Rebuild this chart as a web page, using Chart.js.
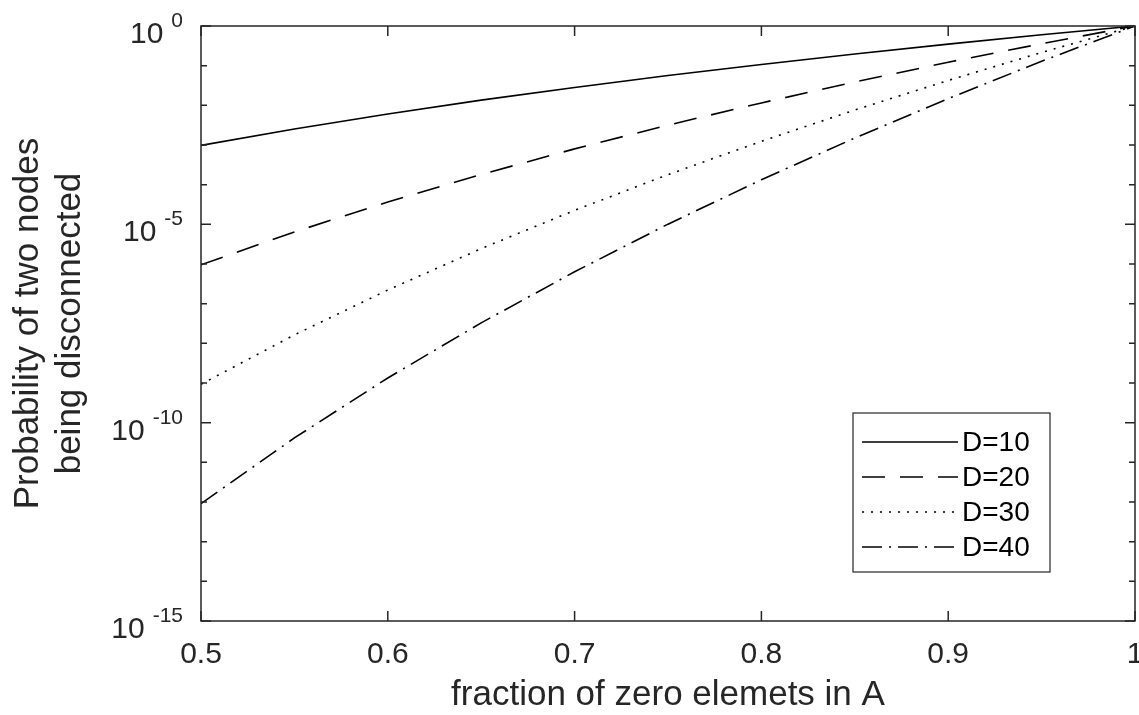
<!DOCTYPE html>
<html>
<head>
<meta charset="utf-8">
<script src="https://cdn.jsdelivr.net/npm/chart.js@4"></script>
<style>
  body { margin: 0; background: #fff; }
  canvas { display: block; }
</style>
</head>
<body>
<canvas id="myChart" width="1139" height="715"></canvas>
<script>
// values (x = fraction of zero elements)
const xValues = [0.5, 0.55, 0.6, 0.65, 0.7, 0.75, 0.8, 0.85, 0.9, 0.95, 1.0];
const d10 = [9.77e-4, 2.53e-3, 6.05e-3, 1.35e-2, 2.82e-2, 5.63e-2, 1.07e-1, 1.97e-1, 3.49e-1, 5.99e-1, 1];
const d20 = [9.54e-7, 6.42e-6, 3.66e-5, 1.81e-4, 7.98e-4, 3.17e-3, 1.15e-2, 3.88e-2, 1.22e-1, 3.58e-1, 1];
const d30 = [9.31e-10, 1.63e-8, 2.21e-7, 2.44e-6, 2.25e-5, 1.79e-4, 1.24e-3, 7.63e-3, 4.24e-2, 2.15e-1, 1];
const d40 = [9.09e-13, 4.12e-11, 1.34e-9, 3.28e-8, 6.37e-7, 1.01e-5, 1.33e-4, 1.50e-3, 1.48e-2, 1.29e-1, 1];
const seriesLabels = ['D=10', 'D=20', 'D=30', 'D=40'];
const xTicks = [0.5, 0.6, 0.7, 0.8, 0.9, 1];
const xTickLabels = ['0.5', '0.6', '0.7', '0.8', '0.9', '1'];
const yExponents = [0, -1, -2, -3, -4, -5, -6, -7, -8, -9, -10, -11, -12, -13, -14, -15];
const yLabelExponents = [0, -5, -10, -15];

const AXIS = '#262626';
const FONT = '"Liberation Sans", Arial, Helvetica, sans-serif';
const dashes = [[], [23, 15], [2, 7], [20, 7, 2, 7]];

function pts(arr) {
    return xValues.map((x, i) => ({ x: x, y: arr[i] }));
}

const frame = {
    id: 'matlabFrame',
    afterDraw: (chart) => {
        const { ctx, chartArea: a } = chart;
        const xs = chart.scales.x;
        const ys = chart.scales.y;
        ctx.save();
        ctx.strokeStyle = AXIS;
        ctx.lineWidth = 1.5;
        ctx.setLineDash([]);
        ctx.strokeRect(a.left, a.top, a.right - a.left, a.bottom - a.top);

        // x ticks, inward on bottom and top
        ctx.beginPath();
        xTicks.forEach(v => {
            const px = xs.getPixelForValue(v);
            ctx.moveTo(px, a.bottom); ctx.lineTo(px, a.bottom - 10);
            ctx.moveTo(px, a.top); ctx.lineTo(px, a.top + 10);
        });
        // y ticks, each decade, longer where labelled
        yExponents.forEach(e => {
            const py = ys.getPixelForValue(Math.pow(10, e));
            const len = yLabelExponents.includes(e) ? 10 : 6;
            ctx.moveTo(a.left, py); ctx.lineTo(a.left + len, py);
            ctx.moveTo(a.right, py); ctx.lineTo(a.right - len, py);
        });
        ctx.stroke();

        // x tick labels
        ctx.fillStyle = AXIS;
        ctx.font = '30px ' + FONT;
        ctx.textAlign = 'center';
        ctx.textBaseline = 'middle';
        xTicks.forEach((v, i) => {
            ctx.fillText(xTickLabels[i], xs.getPixelForValue(v), a.bottom + 34);
        });

        // y tick labels 10^n
        ctx.textAlign = 'right';
        ctx.textBaseline = 'alphabetic';
        yLabelExponents.forEach(e => {
            const py = ys.getPixelForValue(Math.pow(10, e));
            const right = a.left - 18;
            ctx.font = '21px ' + FONT;
            const expText = String(e);
            const ew = ctx.measureText(expText).width;
            ctx.fillText(expText, right, py + 1);
            ctx.font = '30px ' + FONT;
            ctx.fillText('10', right - ew - 8, py + 17);
        });

        // axis titles
        ctx.font = '35px ' + FONT;
        ctx.textAlign = 'center';
        ctx.textBaseline = 'middle';
        ctx.fillText('fraction of zero elemets in A', (a.left + a.right) / 2, a.bottom + 74);
        ctx.save();
        ctx.translate(28, (a.top + a.bottom) / 2);
        ctx.rotate(-Math.PI / 2);
        ctx.fillText('Probability of two nodes', 0, 0);
        ctx.fillText('being disconnected', 0, 42);
        ctx.restore();

        // legend box
        const bx = 853, by = 413, bw = 197, bh = 159;
        ctx.fillStyle = '#fff';
        ctx.fillRect(bx, by, bw, bh);
        ctx.lineWidth = 1.2;
        ctx.strokeRect(bx, by, bw, bh);
        ctx.font = '28px ' + FONT;
        ctx.textAlign = 'left';
        chart.data.datasets.forEach((ds, i) => {
            const ry = by + 29 + i * 35;
            ctx.strokeStyle = ds.borderColor;
            ctx.lineWidth = ds.borderWidth;
            ctx.setLineDash(ds.borderDash);
            ctx.beginPath();
            ctx.moveTo(bx + 9, ry); ctx.lineTo(bx + 105, ry);
            ctx.stroke();
            ctx.setLineDash([]);
            ctx.fillStyle = '#000';
            ctx.fillText(ds.label, bx + 109, ry + 1);
        });
        ctx.restore();
    }
};

const ctx = document.getElementById('myChart').getContext('2d');
const chart = new Chart(ctx, {
    type: 'line',
    data: {
        datasets: [d10, d20, d30, d40].map((arr, i) => ({
            label: seriesLabels[i],
            data: pts(arr),
            borderColor: '#000',
            borderWidth: 1.6,
            borderDash: dashes[i],
            pointRadius: 0,
            fill: false,
            tension: 0,
        })),
    },
    options: {
        responsive: false,
        animation: false,
        layout: {
            padding: { left: 201, right: 4, top: 26, bottom: 94 },
        },
        plugins: {
            legend: { display: false },
            tooltip: { enabled: false },
        },
        scales: {
            x: {
                type: 'linear',
                display: false,
                min: 0.5,
                max: 1,
            },
            y: {
                type: 'logarithmic',
                display: false,
                min: 1e-15,
                max: 1,
            },
        },
    },
    plugins: [frame],
});
</script>
</body>
</html>
